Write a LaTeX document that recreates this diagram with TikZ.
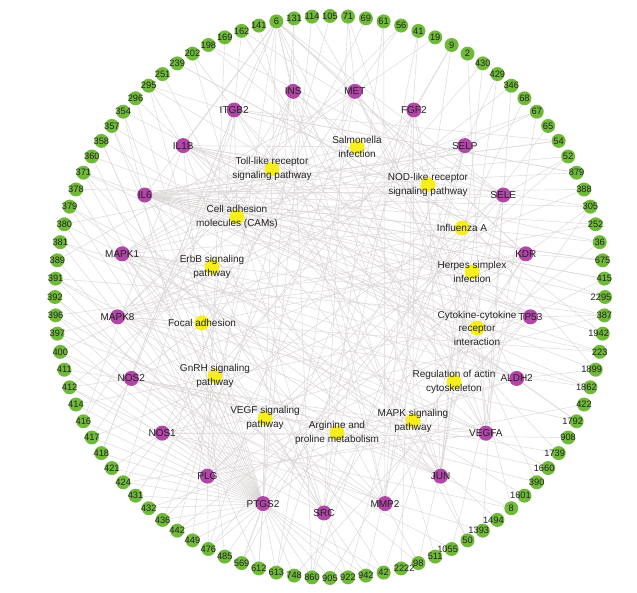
\documentclass[tikz,border=0pt]{standalone}
\usepackage{fontspec}
\setmainfont{Liberation Sans}
\usetikzlibrary{backgrounds}
\definecolor{gfill}{RGB}{112,186,58}
\definecolor{pfill}{RGB}{178,70,168}
\definecolor{yfill}{RGB}{246,238,30}
\definecolor{edgec}{RGB}{220,215,215}
\definecolor{txt}{RGB}{35,35,35}
\tikzset{
 gnode/.style={circle,fill=gfill,minimum size=14pt,inner sep=0pt},
 pnode/.style={circle,fill=pfill,minimum size=15pt,inner sep=0pt},
 ynode/.style={circle,fill=yfill,minimum size=15pt,inner sep=0pt},
 glab/.style={font=\fontsize{9.3}{10}\selectfont,text=txt,inner sep=0pt},
 plab/.style={font=\fontsize{10}{12}\selectfont,text=txt,inner sep=0pt},
 ylab/.style={font=\fontsize{10}{13.5}\selectfont,text=txt,align=center,inner sep=0pt},
 edge/.style={draw=edgec,line width=0.45pt},
}
\begin{document}
\begin{tikzpicture}[x=1pt,y=-1pt]
\useasboundingbox (0,0) rectangle (637,593);
% compound nodes (green, outer ring)
\foreach \lab [count=\i] in {141,6,131,114,105,71,69,61,56,41,19,9,2,430,429,346,68,67,65,54,52,879,388,305,252,36,675,415,2295,387,1942,223,1899,1862,422,1792,908,1739,1660,390,1601,8,1494,1393,50,1055,511,98,2222,42,942,922,905,860,748,613,612,569,485,476,449,442,436,432,431,424,421,418,417,416,414,412,411,400,397,396,392,391,389,381,380,379,378,371,360,358,357,354,296,295,251,239,202,198,169,162} {
  \pgfmathsetmacro{\th}{90-(\i-5)*3.75}
  \pgfmathsetmacro{\dx}{ifthenelse(and(\lab>999,\i<47),-4,ifthenelse(\i==49,3,0))}
  \node[gnode,label={[glab,xshift=\dx pt]center:\lab}] (g\i) at ({330+275*cos(\th)},{297-281*sin(\th)}) {};
}
% target nodes (magenta, middle ring)
\foreach \nm [count=\j from 0] in {INS,ITGB2,IL1B,IL6,MAPK1,MAPK8,NOS2,NOS1,PLG,PTGS2,SRC,MMP2,JUN,VEGFA,ALDH2,TP53,KDR,SELE,SELP,FGF2,MET} {
  \pgfmathsetmacro{\ph}{98.5714+17.142857*\j}
  \expandafter\xdef\csname pk\j\endcsname{\nm}
  \node[pnode,label={[plab]center:\nm}] (\nm) at ({324+207*cos(\ph)},{301-212*sin(\ph)}) {};
}
% pathway nodes (yellow)
\node[ynode,label={[ylab]center:{Salmonella\\infection}}] (sal) at (357,147) {};
\node[ynode,label={[ylab]center:{Toll-like receptor\\signaling pathway}}] (toll) at (272,169) {};
\node[ynode,label={[ylab]center:{NOD-like receptor\\signaling pathway}}] (nod) at (428,185) {};
\node[ynode,label={[ylab]center:{Cell adhesion\\molecules (CAMs)}}] (cam) at (237,217) {};
\node[ynode,label={[ylab]center:Influenza A}] (flu) at (462,228) {};
\node[ynode,label={[ylab]center:{ErbB signaling\\pathway}}] (erbb) at (212,267) {};
\node[ynode,label={[ylab]center:{Herpes simplex\\infection}}] (hsv) at (472,272) {};
\node[ynode,label={[ylab]center:Focal adhesion}] (focal) at (202,323) {};
\node[ynode,label={[ylab]center:{Cytokine-cytokine\\receptor\\interaction}}] (cyto) at (477,328) {};
\node[ynode,label={[ylab]center:{GnRH signaling\\pathway}}] (gnrh) at (215,376) {};
\node[ynode,label={[ylab]center:{Regulation of actin\\cytoskeleton}}] (actin) at (454,382) {};
\node[ynode,label={[ylab]center:{VEGF signaling\\pathway}}] (vegf) at (265,418) {};
\node[ynode,label={[ylab]center:{MAPK signaling\\pathway}}] (mapk) at (413,421) {};
\node[ynode,label={[ylab]center:{Arginine and\\proline metabolism}}] (arg) at (337,433) {};
% connectors
\begin{pgfonlayer}{background}
\fill[white] (0,0) rectangle (637,593);
\foreach \i in {1,...,96} {
  \pgfmathsetmacro{\th}{90-(\i-5)*3.75}
  \pgfmathtruncatemacro{\jo}{round((\th+180-98.5714)/17.142857)}
  \pgfmathtruncatemacro{\ja}{Mod(\jo+Mod(5*\i,11)-5,21)}
  \edef\pa{\csname pk\ja\endcsname}
  \draw[edge] (g\i) -- (\pa);
  \ifodd\i\else
    \pgfmathtruncatemacro{\jb}{Mod(\jo+Mod(7*\i+3,13)-6,21)}
    \edef\pb{\csname pk\jb\endcsname}
    \draw[edge] (g\i) -- (\pb);
  \fi
  \pgfmathtruncatemacro{\r}{Mod(\i,3)}
  \ifnum\r=0
    \pgfmathtruncatemacro{\jn}{Mod(round((\th-98.5714)/17.142857),21)}
    \edef\pc{\csname pk\jn\endcsname}
    \draw[edge] (g\i) -- (\pc);
  \fi
  \ifnum\i>49 \ifnum\i<91 \draw[edge] (g\i) -- (PTGS2); \fi\fi
}
\foreach \p in {INS,MET,ITGB2,IL1B,IL6,KDR,SELE,MMP2,VEGFA,JUN,NOS2,PLG} \draw[edge] (g2) -- (\p);
\foreach \i in {20,...,34} \draw[edge] (IL6) -- (g\i);
\foreach \a/\b in {sal/IL1B,sal/IL6,sal/MAPK1,sal/MAPK8,sal/JUN,sal/INS,
  toll/IL1B,toll/IL6,toll/MAPK1,toll/MAPK8,toll/JUN,
  nod/IL1B,nod/IL6,nod/MAPK1,nod/MAPK8,nod/JUN,
  cam/ITGB2,cam/SELE,cam/SELP,cam/INS,
  flu/IL1B,flu/IL6,flu/MAPK1,flu/MAPK8,flu/JUN,flu/PLG,
  erbb/MAPK1,erbb/MAPK8,erbb/JUN,erbb/SRC,
  hsv/IL1B,hsv/IL6,hsv/MAPK8,hsv/JUN,hsv/SRC,
  focal/MAPK1,focal/MAPK8,focal/JUN,focal/SRC,focal/KDR,focal/MET,focal/VEGFA,
  cyto/IL1B,cyto/IL6,cyto/KDR,cyto/MET,cyto/VEGFA,
  gnrh/MAPK1,gnrh/MAPK8,gnrh/JUN,gnrh/SRC,gnrh/MMP2,
  actin/FGF2,actin/ITGB2,actin/MAPK1,actin/INS,
  vegf/MAPK1,vegf/PTGS2,vegf/SRC,vegf/KDR,vegf/VEGFA,vegf/NOS1,
  mapk/FGF2,mapk/IL1B,mapk/MAPK1,mapk/MAPK8,mapk/JUN,mapk/TP53,
  arg/NOS1,arg/NOS2,arg/ALDH2}
  \draw[edge] (\a) -- (\b);
\end{pgfonlayer}
\end{tikzpicture}
\end{document}
